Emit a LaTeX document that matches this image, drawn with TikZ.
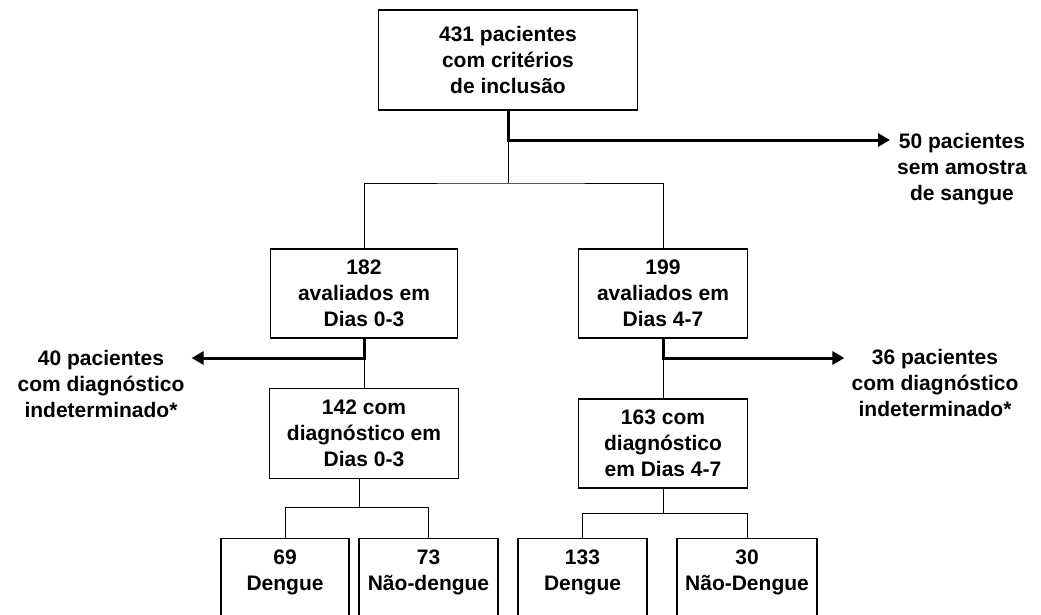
\documentclass[tikz,border=0pt]{standalone}
\usepackage{fontspec}
\setmainfont{Liberation Sans}
\usetikzlibrary{arrows.meta}

\tikzset{
  box/.style={draw, line width=1.3pt, align=center, inner sep=2pt},
  leafbox/.style={box, anchor=north, inner ysep=11pt, text depth=60pt},
  side/.style={align=center, inner xsep=7pt, inner ysep=0pt},
  link/.style={line width=1pt},
  exitlink/.style={line width=3pt, -{Triangle[length=12pt,width=13pt]}},
}

\begin{document}
\begin{tikzpicture}[x=1pt, y=-1pt, font=\bfseries\fontsize{21}{26}\selectfont]
\useasboundingbox (0,0) rectangle (1041,614);
\clip (0,0) rectangle (1041,614);

\node[box, minimum width=259pt, minimum height=100pt] (incl) at (508,60) {431 pacientes\\com critérios\\de inclusão};
\node[box, minimum width=187pt, minimum height=89pt] (b182) at (364,293.5) {182\\avaliados em\\Dias 0-3};
\node[box, minimum width=169pt, minimum height=89pt] (b199) at (663,293.5) {199\\avaliados em\\Dias 4-7};
\node[box, minimum width=189pt, minimum height=90pt] (b142) at (364,433.5) {142 com\\diagnóstico em\\Dias 0-3};
\node[box, minimum width=169pt, minimum height=89pt] (b163) at (663,443.5) {163 com\\diagnóstico\\em Dias 4-7};

\node[leafbox, minimum width=128pt] (b69) at (285,538) {69\\Dengue};
\node[leafbox, minimum width=139pt] (b73) at (428.5,538) {73\\Não-dengue};
\node[leafbox, minimum width=129pt] (b133) at (582.5,538) {133\\Dengue};
\node[leafbox, minimum width=140pt] (b30) at (747,538) {30\\Não-Dengue};

\node[side] (nosample) at (962,169) {50 pacientes\\sem amostra\\de sangue};
\node[side] (indet03) at (101,384) {40 pacientes\\com diagnóstico\\indeterminado*};
\node[side] (indet47) at (935,383) {36 pacientes\\com diagnóstico\\indeterminado*};

\coordinate (j0) at (508,140);
\coordinate (s0) at (508,183);
\coordinate (j1) at (364,358);
\coordinate (j2) at (663,358);
\coordinate (s1) at (359,507);
\coordinate (s2) at (663,513);

% exclusions
\draw[exitlink] (incl.south) -- (j0) -- (j0 -| nosample.west);
\draw[exitlink] (b182.south) -- (j1) -- (j1 -| indet03.east);
\draw[exitlink] (b199.south) -- (j2) -- (j2 -| indet47.west);

\draw[link] (j0) -- (s0);
\draw[link] (b182.north) |- (s0) -| (b199.north);
\draw[link] (j1) -- (b142.north);
\draw[link] (j2) -- (b163.north);

\draw[link] (s1 |- b142.south) -- (s1);
\draw[link] (b69.north) |- (s1) -| (b73.north);
\draw[link] (b163.south) -- (s2);
\draw[link] (b133.north) |- (s2) -| (b30.north);
\end{tikzpicture}
\end{document}
